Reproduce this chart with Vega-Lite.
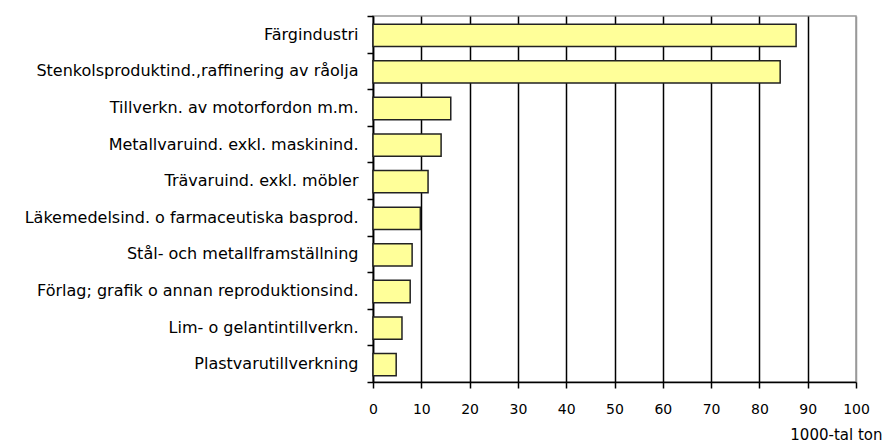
{
  "$schema": "https://vega.github.io/schema/vega-lite/v6.json",
  "autosize": {"type": "none"},
  "padding": {"left": 373, "top": 16, "right": 28, "bottom": 62},
  "width": 483,
  "height": 366,
  "background": "white",
  "config": {
    "view": {"stroke": "#999999", "strokeWidth": 1.5},
    "font": "DejaVu Sans"
  },
  "data": {
    "values": [
      {"bransch": "Färgindustri", "varde": 87.6},
      {"bransch": "Stenkolsproduktind.,raffinering av råolja", "varde": 84.3},
      {"bransch": "Tillverkn. av motorfordon m.m.", "varde": 16.1},
      {"bransch": "Metallvaruind. exkl. maskinind.", "varde": 14.1},
      {"bransch": "Trävaruind. exkl. möbler", "varde": 11.4},
      {"bransch": "Läkemedelsind. o farmaceutiska basprod.", "varde": 9.8},
      {"bransch": "Stål- och metallframställning", "varde": 8.1},
      {"bransch": "Förlag; grafik o annan reproduktionsind.", "varde": 7.7},
      {"bransch": "Lim- o gelantintillverkn.", "varde": 6.0},
      {"bransch": "Plastvarutillverkning", "varde": 4.8}
    ]
  },
  "mark": {"type": "bar", "fill": "#FFFF99", "stroke": "#222222", "strokeWidth": 1.5, "height": {"band": 0.61}, "yOffset": 1},
  "encoding": {
    "y": {
      "field": "bransch",
      "type": "nominal",
      "sort": null,
      "scale": {"paddingInner": 0, "paddingOuter": 0},
      "axis": {
        "title": null,
        "tickBand": "extent",
        "tickSize": 6,
        "tickColor": "black",
        "tickWidth": 1.5,
        "domainColor": "black",
        "domainWidth": 1.5,
        "labelColor": "black",
        "labelFontSize": 16,
        "labelPadding": 9,
        "labelLimit": 400
      }
    },
    "x": {
      "field": "varde",
      "type": "quantitative",
      "scale": {"domain": [0, 100], "nice": false},
      "axis": {
        "values": [0, 10, 20, 30, 40, 50, 60, 70, 80, 90, 100],
        "grid": true,
        "gridColor": {"condition": {"test": "datum.value === 100", "value": "#999999"}, "value": "black"},
        "gridWidth": 1.5,
        "gridOpacity": 1,
        "tickSize": 6,
        "tickColor": "black",
        "tickWidth": 1.5,
        "domainColor": "black",
        "domainWidth": 1.5,
        "labelColor": "black",
        "labelFontSize": 14,
        "labelPadding": 14,
        "labelFlush": false,
        "labelOverlap": false,
        "title": "1000-tal ton",
        "titleFontSize": 15,
        "titleFontWeight": "normal",
        "titleColor": "black",
        "titleAlign": "right",
        "titleBaseline": "alphabetic",
        "titleX": 509,
        "titleY": 57
      }
    }
  }
}
